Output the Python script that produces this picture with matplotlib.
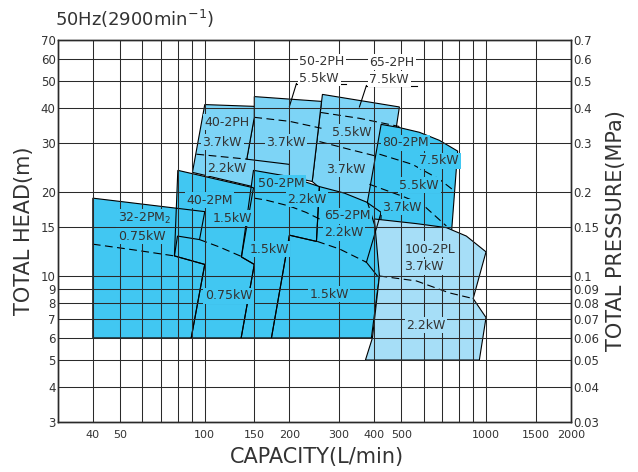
import matplotlib
matplotlib.use("Agg")
import matplotlib.pyplot as plt
from matplotlib.patches import Polygon
from matplotlib.ticker import NullFormatter, NullLocator

plt.rcParams['font.family'] = ['DejaVu Sans']
plt.rcParams['mathtext.default'] = 'regular'

# ---- axis values ----
head_ticks = [3, 4, 5, 6, 7, 8, 9, 10, 15, 20, 30, 40, 50, 60, 70]
pressure_labels = ['0.03', '0.04', '0.05', '0.06', '0.07', '0.08', '0.09', '0.1',
                   '0.15', '0.2', '0.3', '0.4', '0.5', '0.6', '0.7']
cap_ticks = [40, 50, 100, 150, 200, 300, 400, 500, 1000, 1500, 2000]
cap_grid = [40, 50, 60, 70, 80, 90, 100, 150, 200, 300, 400, 500, 600, 700, 800, 900, 1000, 1500]
head_grid = [4, 5, 6, 7, 8, 9, 10, 15, 20, 30, 40, 50, 60]

# ---- pump areas (capacity L/min, head m) ----
q_65_2ph = [262, 492, 461, 379, 256, 241]
h_65_2ph = [44.7, 40.3, 26.2, 18.0, 20.7, 21.8]
q_50_2ph = [150, 260, 241, 200, 141, 150]
h_50_2ph = [43.9, 42.2, 21.8, 22.7, 26.2, 37.0]
q_40_2ph = [100, 150, 150, 141, 200, 200, 148, 90.4]
h_40_2ph = [41.1, 40.5, 37.0, 26.2, 25.1, 22.7, 20.9, 23.5]

q_32_2pm = [40, 100, 95.8, 80, 78, 100, 89.5, 40]
h_32_2pm = [19.0, 17.0, 13.5, 13.9, 11.8, 11.0, 6, 6]
q_40_2pm = [80.2, 149, 135, 150, 134.7, 89.5, 100, 78]
h_40_2pm = [23.9, 20.7, 11.7, 11.0, 6, 6, 11.0, 11.8]
q_50_2pm = [149, 200, 255.6, 249.5, 200, 172.6, 134.7, 150, 135]
h_50_2pm = [23.9, 22.7, 20.9, 13.3, 14.0, 6, 6, 11.0, 11.7]
q_80_2pm = [423.7, 492, 579.6, 682.8, 793, 752.9, 401, 378.7]
h_80_2pm = [34.9, 34.0, 32.7, 30.6, 28.0, 14.1, 15.3, 18.4]
q_65_2pm = [255.6, 313.8, 375.6, 423.7, 417.8, 391.2, 172.6, 200, 249.5]
h_65_2pm = [20.9, 19.8, 18.4, 16.9, 10.0, 6, 6, 14.0, 13.3]

q_100_2pl = [401, 565.6, 722.8, 851, 1000, 900, 1000, 946.8, 372.6, 394.5, 417.8]
h_100_2pl = [16.0, 15.4, 14.9, 13.9, 12.2, 8.3, 7.1, 5.0, 5.0, 6.0, 10.0]

# ---- dashed motor boundaries ----
dashed_lines = [
    ([40, 56, 78], [13.0, 12.4, 11.8]),                      # 32-2PM2
    ([95.8, 112.8, 136.2], [13.5, 12.7, 11.7]),              # 40-2PM
    ([150, 165, 200, 229, 256], [19.0, 18.7, 17.8, 16.9, 16.0]),  # 50-2PM
    ([251, 301, 375.6], [13.3, 12.5, 11.2]),                 # 65-2PM
    ([417.8, 547.3, 682.8, 774.6], [27.3, 25.1, 22.2, 20.1]),  # 80-2PM 7.5/5.5
    ([385, 504.4, 594, 722.8], [21.3, 19.3, 18.05, 15.1]),   # 80-2PM 5.5/3.7
    ([259, 354.7, 492], [38.5, 36.7, 34.3]),                 # 65-2PH 7.5/5.5
    ([255.6, 327, 410.9], [30.3, 28.4, 26.8]),               # 65-2PH 5.5/3.7
    ([150, 200, 260], [37.0, 35.8, 33.8]),                   # 50-2PH
    ([93.4, 141.8], [27.3, 26.2]),                           # 40-2PH
    ([417.8, 565.6, 740.8, 900], [10.0, 9.6, 8.7, 8.3]),     # 100-2PL
]
solid_lines = [
    ([423.7, 375.6], [16.9, 11.2]),
    ([375.6, 410.9], [11.2, 10.0]),
    ([211.8, 200], [48.9, 40.5]),     # leader 50-2PH
    ([211.8, 318.8], [48.9, 48.9]),
    ([375.6, 354.7], [48.1, 40.3]),   # leader 65-2PH
    ([375.6, 570], [48.1, 48.1]),
]

PM_COL = '#41c7f2'
PH_COL = '#7dd4f6'
PL_COL = '#a6def7'
TXT = '#333333'
GRID = '#2a2a2a'

# (text, capacity, head, background)
labels = [
    ('40-2PH', 100, 35.5, PH_COL), ('3.7kW', 98.2, 30.1, PH_COL), ('2.2kW', 102.2, 24.3, PH_COL),
    ('3.7kW', 165.7, 30.1, PH_COL),
    ('5.5kW', 284.4, 32.7, PH_COL), ('3.7kW', 270.7, 24.1, PH_COL),
    ('80-2PM', 428, 30.0, PM_COL), ('7.5kW', 579.6, 25.9, PM_COL), ('5.5kW', 492, 21.1, PM_COL),
    ('3.7kW', 428, 17.6, PM_COL),
    ('50-2PM', 154, 21.5, PM_COL), ('2.2kW', 196.8, 18.8, PM_COL), ('1.5kW', 144.2, 12.46, PM_COL),
    ('65-2PM', 266.3, 16.4, PM_COL), ('2.2kW', 266.3, 14.3, PM_COL), ('1.5kW', 235.6, 8.6, PM_COL),
    ('40-2PM', 86.1, 18.7, PM_COL), ('1.5kW', 106.5, 16.1, PM_COL), ('0.75kW', 100, 8.5, PM_COL),
    ('32-2PM$_2$', 49, 16.1, PM_COL), ('0.75kW', 49, 13.9, PM_COL),
    ('100-2PL', 512.8, 12.46, PL_COL), ('3.7kW', 512.8, 10.8, PL_COL), ('2.2kW', 520.9, 6.66, PL_COL),
    ('50-2PH', 217, 58.6, 'white'), ('5.5kW', 217, 51.0, 'white'),
    ('65-2PH', 385, 58.2, 'white'), ('7.5kW', 385, 50.6, 'white'),
]

fig = plt.figure(figsize=(6.38, 4.72), dpi=100)
ax = fig.add_axes([57.7/638, 1-422/472, 513/638, 382/472])
ax.set_xscale('log')
ax.set_yscale('log')
ax.set_xlim(30, 2000)
ax.set_ylim(3, 70)

# PH areas
for q, h in [(q_65_2ph, h_65_2ph), (q_50_2ph, h_50_2ph), (q_40_2ph, h_40_2ph)]:
    ax.add_patch(Polygon(list(zip(q, h)), closed=True, fc=PH_COL, ec='black', lw=0.8, zorder=1))

# PM areas: fills first, outlines after
pm = [(q_32_2pm, h_32_2pm), (q_40_2pm, h_40_2pm), (q_50_2pm, h_50_2pm),
      (q_80_2pm, h_80_2pm), (q_65_2pm, h_65_2pm)]
for q, h in pm:
    ax.add_patch(Polygon(list(zip(q, h)), closed=True, fc=PM_COL, ec='none', zorder=2))
for q, h in pm:
    ax.add_patch(Polygon(list(zip(q, h)), closed=True, fc='none', ec='black', lw=0.8, zorder=2.5))

# PL area
ax.add_patch(Polygon(list(zip(q_100_2pl, h_100_2pl)), closed=True, fc=PL_COL, ec='black', lw=0.8, zorder=3))

for q, h in dashed_lines:
    ax.plot(q, h, color='black', lw=0.8, dashes=(7, 4), zorder=3.5)
for q, h in solid_lines:
    ax.plot(q, h, color='black', lw=0.8, zorder=3.5)

# grid on top of the areas
for v in cap_grid:
    ax.axvline(v, color=GRID, lw=0.75, zorder=4)
for v in head_grid:
    ax.axhline(v, color=GRID, lw=0.75, zorder=4)

for t, q, h, bg in labels:
    ax.text(q, h, t, fontsize=9, color=TXT, ha='left', va='center', zorder=6,
            bbox=dict(boxstyle='square,pad=0.12', fc=bg, ec='none'))

ax.set_xticks(cap_ticks)
ax.set_xticklabels([str(v) for v in cap_ticks])
ax.set_yticks(head_ticks)
ax.set_yticklabels([str(v) for v in head_ticks])
ax.xaxis.set_minor_locator(NullLocator())
ax.yaxis.set_minor_locator(NullLocator())
ax.xaxis.set_minor_formatter(NullFormatter())
ax.yaxis.set_minor_formatter(NullFormatter())
ax.tick_params(axis='x', length=0, pad=6, labelsize=8, labelcolor=TXT)
ax.tick_params(axis='y', length=0, pad=1.5, labelsize=8.5, labelcolor=TXT)

ax2 = ax.twinx()
ax2.set_yscale('log')
ax2.set_ylim(3, 70)
ax2.set_yticks(head_ticks)
ax2.set_yticklabels(pressure_labels)
ax2.yaxis.set_minor_locator(NullLocator())
ax2.yaxis.set_minor_formatter(NullFormatter())
ax2.tick_params(axis='y', length=0, pad=1.5, labelsize=8.5, labelcolor=TXT)

for a in (ax, ax2):
    for s in a.spines.values():
        s.set_color(GRID)
        s.set_linewidth(1.0)
        s.set_zorder(7)

fig.text(55/638, 1-26/472, '50Hz(2900min$^{-1}$)', fontsize=13, color=TXT, ha='left', va='baseline')
fig.text(317/638, 1-457/472, 'CAPACITY(L/min)', fontsize=15, color=TXT, ha='center', va='center')
fig.text(24/638, 1-231/472, 'TOTAL HEAD(m)', fontsize=15, color=TXT, ha='center', va='center', rotation=90)
fig.text(616/638, 1-231/472, 'TOTAL PRESSURE(MPa)', fontsize=15, color=TXT, ha='center', va='center', rotation=90)

fig.savefig('out.png', dpi=100)
